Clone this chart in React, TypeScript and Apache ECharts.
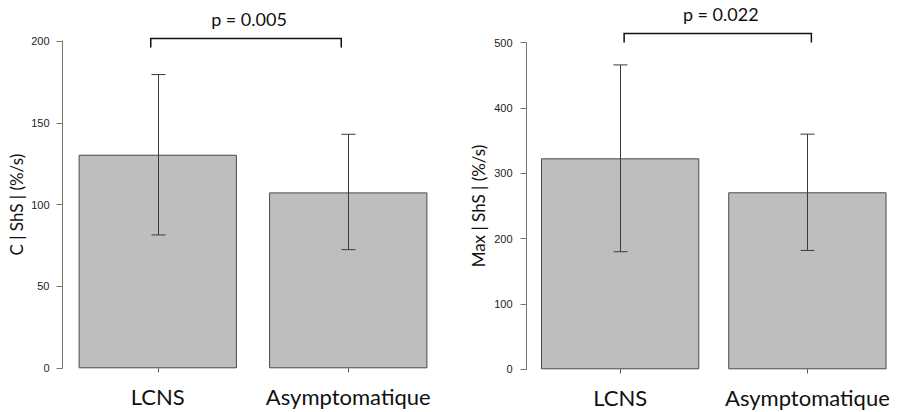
import React, { useEffect, useRef } from "react";
import * as echarts from "echarts";

const categories = ["LCNS", "Asymptomatique"];
const cshsMeans = [130.5, 107.5];
const cshsLow = [81.5, 72.5];
const cshsHigh = [179.5, 143];
const maxShsMeans = [323, 271];
const maxShsLow = [180, 182];
const maxShsHigh = [466, 360];
const pValues = ["p = 0.005", "p = 0.022"];
const bracketLevels = [202, 515];
const yMax = [200, 500];
const yInterval = [50, 100];
const yNames = ["C | ShS | (%/s)", "Max | ShS | (%/s)"];

const FONT = "Lato";
const BAR_FILL = "#bebebe";
const BAR_BORDER = "#4a4a4a";
const LINE = "#3a3a3a";

export default function App() {
  const ref = useRef<HTMLDivElement>(null);
  useEffect(() => {
    document.body.style.margin = "0";
    const chart = echarts.init(ref.current!, null, { renderer: "svg" });

    const grids = [
      { left: 62.5, top: 41, width: 381, height: 327.3 },
      { left: 526.5, top: 42.7, width: 379, height: 326.6 },
    ];
    const means = [cshsMeans, maxShsMeans];
    const lows = [cshsLow, maxShsLow];
    const highs = [cshsHigh, maxShsHigh];
    const bracketShift = [-7, 4];
    const nameGaps = [38, 40];
    const labelMargins = [13, 14];

    const xAxis: any[] = [];
    const yAxis: any[] = [];
    const series: any[] = [];

    grids.forEach((_, i) => {
      xAxis.push({
        type: "category",
        gridIndex: i,
        data: categories,
        axisLine: { show: false },
        axisTick: { show: true, alignWithLabel: true, length: 4, lineStyle: { color: "#555" } },
        axisLabel: { interval: 0, fontFamily: FONT, fontSize: 22, color: "#111", margin: 17 },
      });
      yAxis.push({
        type: "value",
        gridIndex: i,
        min: 0,
        max: yMax[i],
        interval: yInterval[i],
        name: yNames[i],
        nameLocation: "middle",
        nameGap: nameGaps[i],
        nameTextStyle: { fontFamily: FONT, fontSize: 17, color: "#111" },
        splitLine: { show: false },
        axisLine: { show: true, lineStyle: { color: "#777", width: 1 } },
        axisTick: { show: true, length: 6, lineStyle: { color: "#777" } },
        axisLabel: { fontFamily: "Liberation Sans", fontSize: 11, color: "#222", margin: labelMargins[i] },
      });
      series.push({
        type: "bar",
        xAxisIndex: i,
        yAxisIndex: i,
        data: means[i],
        barWidth: 158.3,
        itemStyle: { color: BAR_FILL, borderColor: BAR_BORDER, borderWidth: 1 },
        silent: true,
      });
      series.push({
        type: "custom",
        xAxisIndex: i,
        yAxisIndex: i,
        data: categories.map((_, k) => [k, lows[i][k], highs[i][k]]),
        encode: { x: 0, y: [1, 2] },
        renderItem: (params: any, api: any) => {
          const x = api.value(0);
          const lo = api.coord([x, api.value(1)]);
          const hi = api.coord([x, api.value(2)]);
          const cx = Math.round(lo[0]) + 0.5;
          const half = 7;
          const style = { stroke: LINE, lineWidth: 1 };
          return {
            type: "group",
            children: [
              { type: "line", shape: { x1: cx, y1: hi[1], x2: cx, y2: lo[1] }, style },
              { type: "line", shape: { x1: cx - half, y1: hi[1], x2: cx + half, y2: hi[1] }, style },
              { type: "line", shape: { x1: cx - half, y1: lo[1], x2: cx + half, y2: lo[1] }, style },
            ],
          };
        },
        silent: true,
        z: 5,
      });
      series.push({
        type: "custom",
        xAxisIndex: i,
        yAxisIndex: i,
        data: [[0, 1, bracketLevels[i]]],
        encode: { x: [0, 1], y: 2 },
        renderItem: (params: any, api: any) => {
          const a = api.coord([api.value(0), api.value(2)]);
          const b = api.coord([api.value(1), api.value(2)]);
          const s = bracketShift[i];
          const x1 = a[0] + s;
          const x2 = b[0] + s;
          const y = Math.round(a[1]) + 0.5;
          const drop = 9;
          return {
            type: "group",
            children: [
              {
                type: "polyline",
                shape: { points: [[x1, y + drop], [x1, y], [x2, y], [x2, y + drop]] },
                style: { stroke: "#111", lineWidth: 1.5, fill: null },
              },
              {
                type: "text",
                x: (x1 + x2) / 2 + 3,
                y: y - 11,
                style: {
                  text: pValues[i],
                  fontFamily: FONT,
                  fontSize: 18,
                  fill: "#111",
                  align: "center",
                  verticalAlign: "bottom",
                },
              },
            ],
          };
        },
        silent: true,
      });
    });

    chart.setOption({
      animation: false,
      backgroundColor: "#fff",
      grid: grids,
      xAxis,
      yAxis,
      series,
    });
    return () => chart.dispose();
  }, []);
  return <div ref={ref} style={{ width: 901, height: 412 }} />;
}
